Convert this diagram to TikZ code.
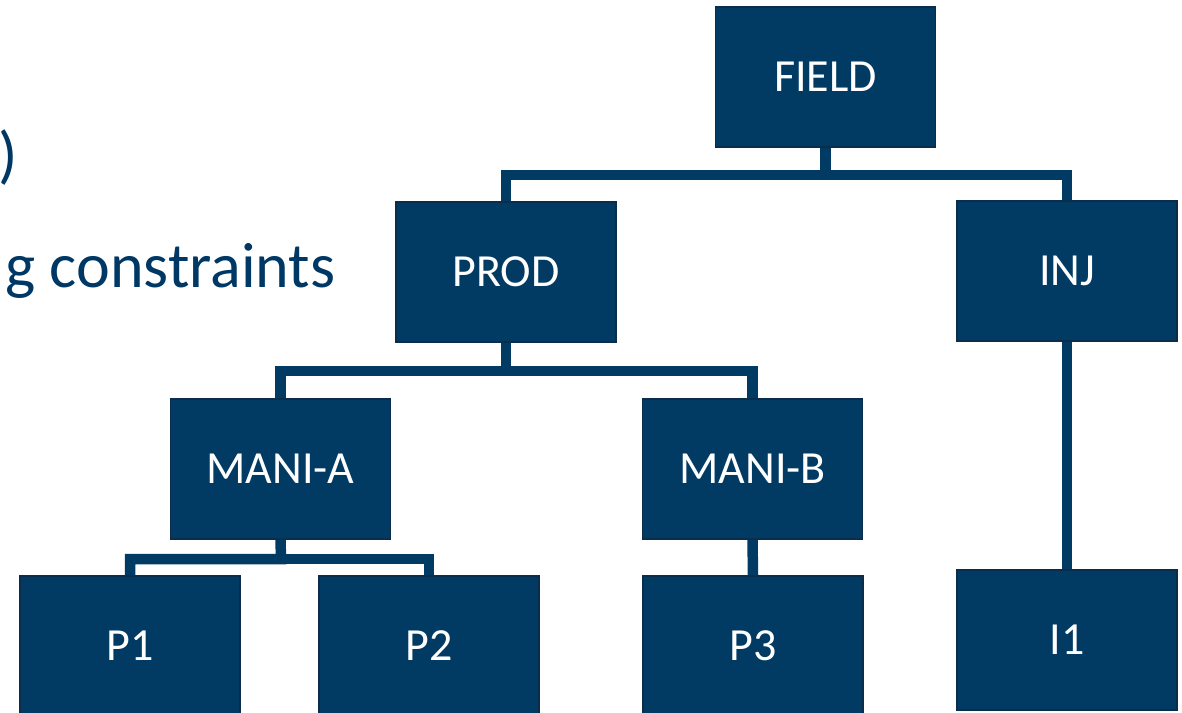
\documentclass[tikz,border=0pt]{standalone}
\usepackage{fontspec}
\setmainfont{Carlito}
\definecolor{boxblue}{HTML}{013A63}
\definecolor{boxedge}{HTML}{0B2C4A}
\definecolor{textblue}{HTML}{003865}
\begin{document}
\begin{tikzpicture}[x=1pt,y=-1pt,
  unit/.style={draw=boxedge,line width=1.2pt,fill=boxblue,text=white,
    minimum width=220pt,minimum height=140pt,inner sep=0pt,
    font=\fontsize{46}{52}\selectfont},
  link/.style={draw=boxblue,line width=10.5pt,line join=miter},
  slide/.style={text=textblue,inner sep=0pt,font=\fontsize{64}{76}\selectfont}]
\useasboundingbox (0,0) rectangle (1182,712);
\clip (0,0) rectangle (1182,712);

% left-hand slide text
\node[slide,anchor=base east] (paren) at (18,176) {)};
\node[slide,anchor=base west] (cons) at (5,287) {g constraints};

% bar heights of the tree branches
\coordinate (fieldbar) at (825.5,175);
\coordinate (prodbar) at (506,371);
\coordinate (manibar) at (281,559);

% hierarchy boxes
\node[unit] (field) at (825.5,77) {FIELD};
\node[unit] (prod) at (506,272) {PROD};
\node[unit] (inj) at (1067,271) {INJ};
\node[unit] (mania) at (280.5,469) {MANI-A};
\node[unit] (manib) at (752.5,469) {MANI-B};
\node[unit] (p1) at (130,646) {P1};
\node[unit] (p2) at (429,646) {P2};
\node[unit] (p3) at (753,646) {P3};
\node[unit] (i1) at (1067,640) {I1};

% connectors
\draw[link] (field.south) -- (fieldbar) -| (prod.north);
\draw[link] (fieldbar) -| (inj.north);
\draw[link] (prod.south) -- (prodbar) -| (mania.north);
\draw[link] (prodbar) -| (manib.north);
\draw[link] (mania.south) -- (manibar) -| (p1.north);
\draw[link] (manibar) -| (p2.north);
\draw[link] (manib.south) -- (p3.north);
\draw[link] (inj.south) -- (i1.north);
\end{tikzpicture}
\end{document}
